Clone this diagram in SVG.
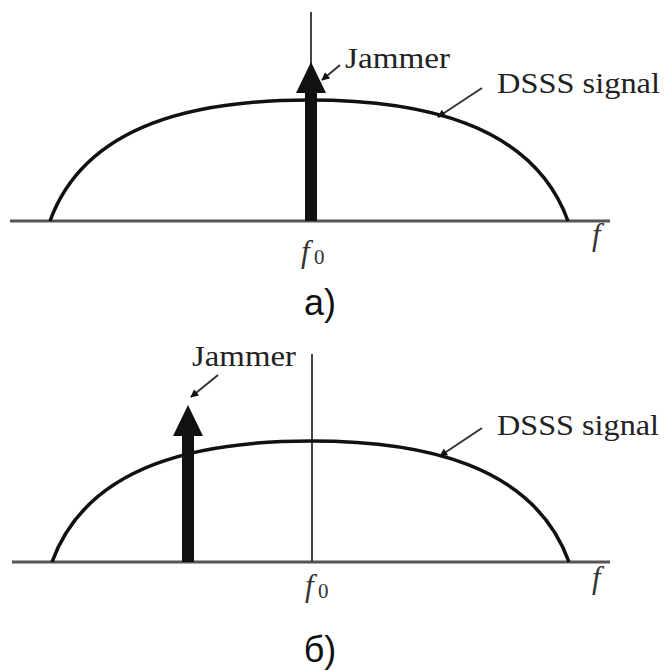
<svg xmlns="http://www.w3.org/2000/svg" width="666" height="671" viewBox="0 0 666 671">
<defs>
<marker id="ptr" viewBox="0 0 10 10" refX="9" refY="5" markerWidth="9" markerHeight="8" orient="auto" markerUnits="userSpaceOnUse">
<path d="M0,0 L10,5 L0,10 z" fill="#111"/>
</marker>
<style>
.axis{stroke:#555;stroke-width:3;fill:none}
.curve{stroke:#111;stroke-width:3.5;fill:none}
.thin{stroke:#444;stroke-width:2;fill:none}
.ptr{stroke:#333;stroke-width:2;fill:none;marker-end:url(#ptr)}
.lbl{font-family:"Liberation Serif","Times New Roman",serif;font-size:30px;fill:#222}
.math{font-family:"Liberation Serif","Times New Roman",serif;font-style:italic;font-size:31px;fill:#333}
.sub{font-family:"Liberation Serif","Times New Roman",serif;font-size:21px;fill:#333}
.cap{font-family:"Liberation Sans",Arial,sans-serif;font-size:36px;fill:#111}
.jam{fill:#111}
</style>
</defs>
<rect width="666" height="671" fill="#fff"/>

<g id="panel-a">
  <g id="axis-a">
    <line class="axis" x1="10" y1="221" x2="610" y2="221"/>
    <line class="thin" x1="311" y1="12" x2="311" y2="221"/>
  </g>
  <g id="signal-a">
    <path class="curve" d="M50,221 C86,122 200,100 309,100 C418,100 532,122 568,221"/>
  </g>
  <g id="jammer-a">
    <rect class="jam" x="305" y="90" width="12" height="131"/>
    <polygon class="jam" points="311,62 326,93 296,93"/>
  </g>
  <g id="labels-a">
    <text class="lbl" x="345" y="68" textLength="105" lengthAdjust="spacingAndGlyphs">Jammer</text>
    <text class="lbl" x="497" y="93" textLength="163" lengthAdjust="spacingAndGlyphs">DSSS signal</text>
    <text class="math" x="301" y="262">f</text>
    <text class="sub" x="314" y="264">0</text>
    <text class="math" x="592" y="245">f</text>
    <text class="cap" x="320" y="315" text-anchor="middle">a)</text>
  </g>
</g>

<g id="panel-b">
  <g id="axis-b">
    <line class="axis" x1="12" y1="562" x2="610" y2="562"/>
    <line class="thin" x1="312" y1="354" x2="312" y2="562"/>
  </g>
  <g id="signal-b">
    <path class="curve" d="M52,562 C88,463 202,441 311,441 C420,441 533,463 569,562"/>
  </g>
  <g id="jammer-b">
    <rect class="jam" x="182" y="433" width="12" height="129"/>
    <polygon class="jam" points="188,405 203,436 173,436"/>
  </g>
  <g id="labels-b">
    <text class="lbl" x="192" y="366" textLength="104" lengthAdjust="spacingAndGlyphs">Jammer</text>
    <text class="lbl" x="497" y="435" textLength="162" lengthAdjust="spacingAndGlyphs">DSSS signal</text>
    <text class="math" x="305" y="596">f</text>
    <text class="sub" x="318" y="598">0</text>
    <text class="math" x="592" y="588">f</text>
    <text class="cap" x="320" y="662" text-anchor="middle">б)</text>
  </g>
</g>

<g id="connectors">
  <line class="ptr" x1="340" y1="65" x2="322" y2="80"/>
  <line class="ptr" x1="482" y1="88" x2="438" y2="117"/>
  <line class="ptr" x1="218" y1="375" x2="191" y2="397"/>
  <line class="ptr" x1="482" y1="428" x2="440" y2="456"/>
</g>
</svg>
